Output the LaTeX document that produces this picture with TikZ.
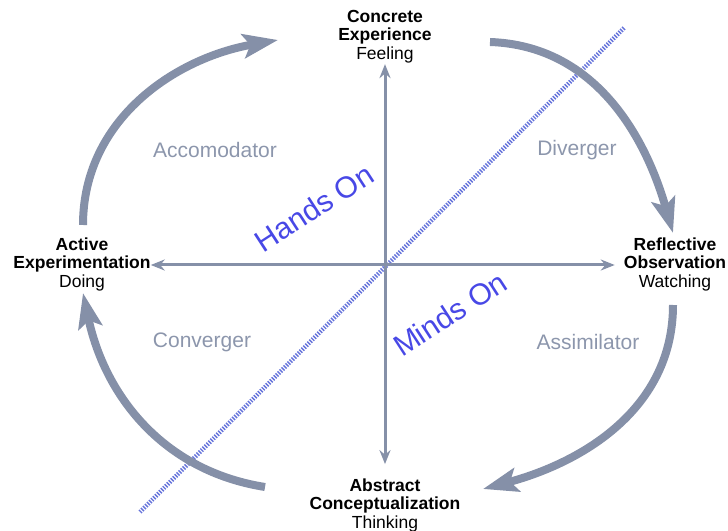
\documentclass[tikz,border=0pt]{standalone}
\usepackage{fontspec}
\setmainfont{Liberation Sans}
\usetikzlibrary{arrows.meta}
\definecolor{cyclegray}{RGB}{133,144,168}
\definecolor{quadgray}{RGB}{140,150,172}
\definecolor{handsblue}{RGB}{72,72,230}
\definecolor{dotblue}{RGB}{100,114,218}

\begin{document}
\begin{tikzpicture}[x=1pt, y=1pt,
    stage/.style={align=center, inner sep=0pt, font=\fontsize{17.5}{18.5}\selectfont},
    quadrant/.style={text=quadgray, font=\fontsize{21}{24}\selectfont},
    modelabel/.style={text=handsblue, font=\fontsize{30}{34}\selectfont, rotate=33},
    quadaxis/.style={cyclegray, line width=3pt, {Stealth[length=14pt,width=11pt]}-{Stealth[length=14pt,width=11pt]}},
    cyclearc/.style={cyclegray, line width=8pt, -{Stealth[length=35pt,width=24pt,inset=7pt]}}]
    \useasboundingbox (0,0) rectangle (728,530);
    \coordinate (o) at (385,265);
    % Stages
    \node[stage] (ce) at (385,493.5) {\textbf{Concrete}\\\textbf{Experience}\\Feeling};
    \node[stage] (ro) at (675,266) {\textbf{Reflective}\\\textbf{Observation}\\Watching};
    \node[stage] (ac) at (385,25) {\textbf{Abstract}\\\textbf{Conceptualization}\\Thinking};
    \node[stage] (ae) at (82,266) {\textbf{Active}\\\textbf{Experimentation}\\Doing};
    % Learning styles
    \node[quadrant] (acc) at (215,380) {Accomodator};
    \node[quadrant] (div) at (577,380) {Diverger};
    \node[quadrant] (con) at (202,188) {Converger};
    \node[quadrant] (ass) at (588,188) {Assimilator};
    % Hands on / minds on divide
    \coordinate (dl-a) at (140,18);
    \coordinate (dl-b) at (625,503);
    \draw[dotblue, line width=4.5pt, dash pattern=on 1.4pt off 1.4pt] (dl-a) -- (dl-b);
    \node[modelabel] (hands) at (314,322) {Hands On};
    \node[modelabel] (minds) at (450,216) {Minds On};
    % Axes
    \draw[quadaxis, shorten >=1pt] (ac.north) ++(0,14) -- (ce.south);
    \draw[quadaxis, shorten >=9pt] (ae.east |- o) -- (ro.west |- o);
    % Cycle
    \coordinate (tl-a) at (83,305);  \coordinate (tl-b) at (278,490);
    \coordinate (tr-a) at (490,488); \coordinate (tr-b) at (673,297);
    \coordinate (br-a) at (673,225); \coordinate (br-b) at (483,41);
    \coordinate (bl-a) at (265,43);  \coordinate (bl-b) at (83,237);
    \draw[cyclearc] (tl-a) to[out=90, in=190] (tl-b);
    \draw[cyclearc] (tr-a) to[out=-2, in=106] (tr-b);
    \draw[cyclearc] (br-a) to[out=-90, in=15] (br-b);
    \draw[cyclearc] (bl-a) to[out=171, in=-78] (bl-b);
\end{tikzpicture}
\end{document}
